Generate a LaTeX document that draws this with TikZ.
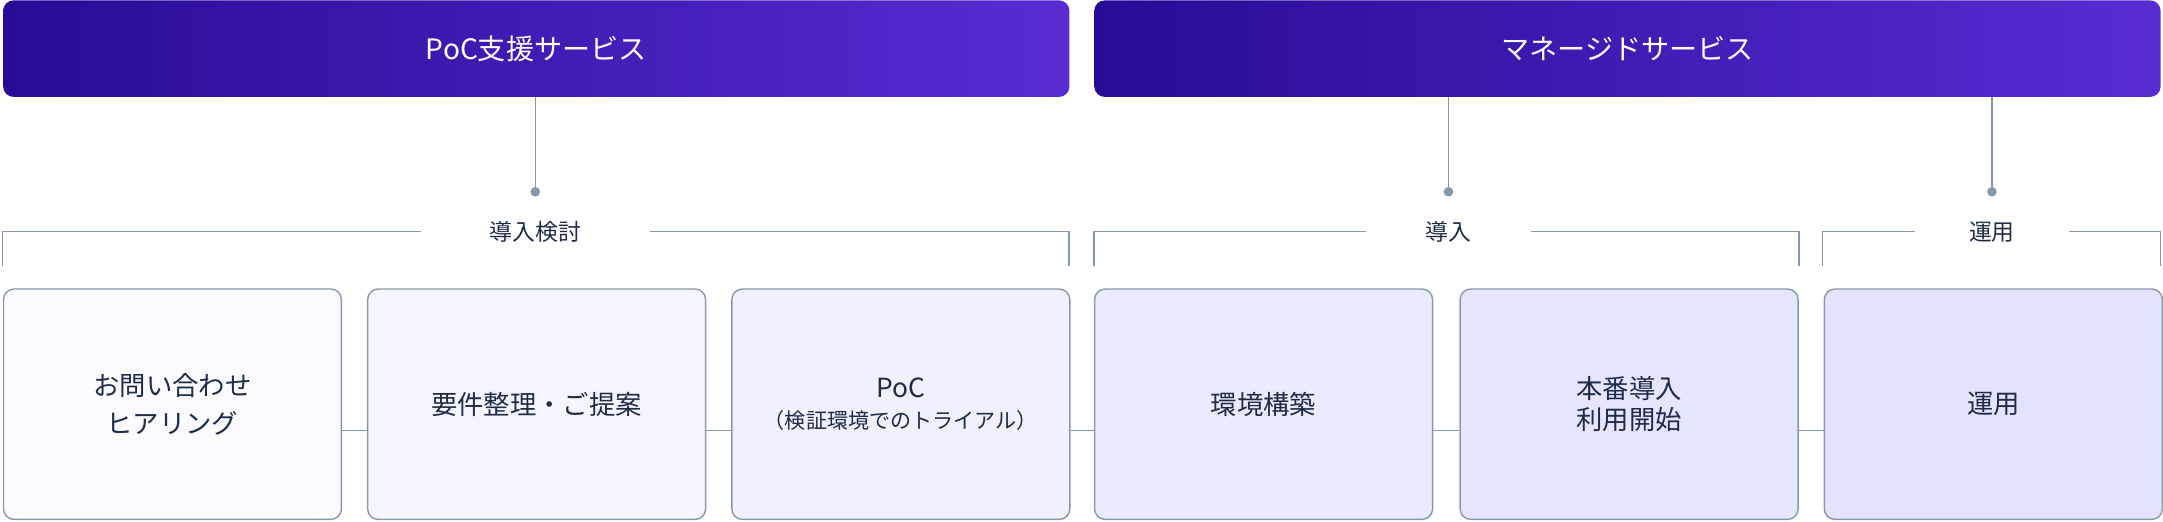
\documentclass[tikz,border=0pt]{standalone}
\usepackage{fontspec}
\setmainfont{Noto Sans CJK JP}
\usetikzlibrary{positioning, calc}
\definecolor{bandA}{RGB}{40, 12, 150}
\definecolor{bandB}{RGB}{88, 44, 210}
\definecolor{linegray}{RGB}{135, 152, 168}
\definecolor{inktext}{RGB}{30, 44, 72}

\begin{document}
\begin{tikzpicture}[
    x=0.0276cm, y=-0.0276cm,
    banner/.style={rectangle, rounded corners=6pt, left color=bandA, right color=bandB, text=white, font=\fontsize{16}{18}\selectfont, minimum width=773*0.0276cm, minimum height=70*0.0276cm, anchor=north west},
    stepbox/.style={rectangle, rounded corners=6pt, draw=linegray, thick, text=inktext, font=\fontsize{15}{22}\selectfont, minimum width=245*0.0276cm, minimum height=167*0.0276cm, anchor=north west, align=center},
    phase/.style={text=inktext, font=\fontsize{13}{15}\selectfont},
    wire/.style={linegray, thick}
]
\useasboundingbox (0,0) rectangle (1568,378);

\node[banner] (poc) at (2,0) {PoC支援サービス};
\node[banner] (mng) at (793,0) {マネージドサービス};

\node[stepbox, fill=blue!2!white] (b1) at (2,209) {お問い合わせ\\ヒアリング};
\node[stepbox, fill=blue!4!white] (b2) at (266,209) {要件整理・ご提案};
\node[stepbox, fill=blue!6!white] (b3) at (530,209) {PoC\\[-4pt]{\fontsize{12}{14}\selectfont （検証環境でのトライアル）}};
\node[stepbox, fill=blue!8!white] (b4) at (793,209) {環境構築};
\node[stepbox, fill=blue!10!white] (b5) at (1058,209) {本番導入\\[-4pt]利用開始};
\node[stepbox, fill=blue!11!white] (b6) at (1322,209) {運用};

\foreach \i/\j in {1/2,2/3,3/4,4/5,5/6}
    \draw[wire] ($(b\i.east)+(0,19)$) -- ($(b\j.west)+(0,19)$);

% phase brackets
\node[phase] (p1) at (388,168) {導入検討};
\node[phase] (p2) at (1050,168) {導入};
\node[phase] (p3) at (1444,168) {運用};
\draw[wire] (2,193) -- (2,168) -- (305,168);
\draw[wire] (471,168) -- (775,168) -- (775,193);
\draw[wire] (793,193) -- (793,168) -- (990,168);
\draw[wire] (1110,168) -- (1304,168) -- (1304,193);
\draw[wire] (1321,193) -- (1321,168) -- (1388,168);
\draw[wire] (1500,168) -- (1566,168) -- (1566,193);

% drops
\foreach \x in {388,1050,1444} {
    \draw[wire] (\x,70) -- (\x,139);
    \fill[linegray] (\x,139) circle (3.5);
}
\end{tikzpicture}
\end{document}
